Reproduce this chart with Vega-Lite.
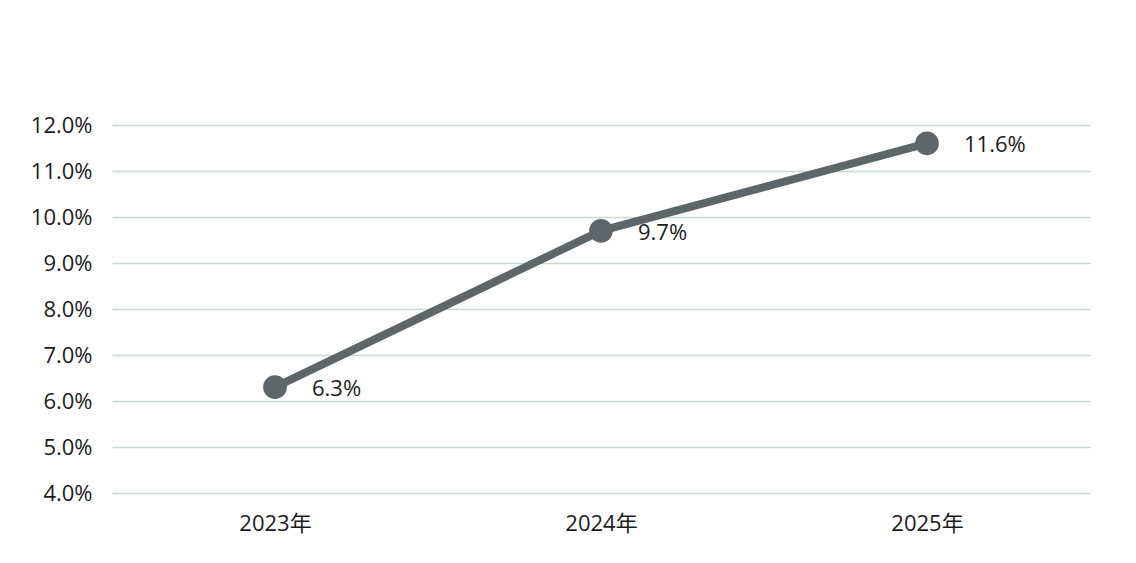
{
  "$schema": "https://vega.github.io/schema/vega-lite/v6.json",
  "width": 978,
  "height": 368,
  "autosize": {"type": "none"},
  "padding": {"left": 112, "top": 125, "right": 46, "bottom": 70},
  "background": "white",
  "data": {
    "values": [
      {"year": "2023年", "rate": 6.3},
      {"year": "2024年", "rate": 9.7},
      {"year": "2025年", "rate": 11.6}
    ]
  },
  "config": {
    "view": {"stroke": null},
    "font": "Open Sans, Noto Sans CJK SC",
    "axis": {
      "domain": false,
      "ticks": false,
      "labelFont": "Open Sans, Noto Sans CJK SC",
      "labelFontSize": 22,
      "labelColor": "#1c1c1c",
      "gridColor": "#c9d9d0",
      "gridWidth": 1.6,
      "title": null
    }
  },
  "encoding": {
    "x": {
      "field": "year",
      "type": "ordinal",
      "scale": {"type": "point", "padding": 0.5},
      "axis": {"labelAngle": 0, "labelPadding": 20, "grid": false}
    },
    "y": {
      "field": "rate",
      "type": "quantitative",
      "scale": {"domain": [4, 12], "nice": false},
      "axis": {
        "values": [4, 5, 6, 7, 8, 9, 10, 11, 12],
        "labelExpr": "format(datum.value, '.1f') + '%'",
        "labelPadding": 20,
        "grid": true
      }
    }
  },
  "layer": [
    {"mark": {"type": "line", "color": "#5f6669", "strokeWidth": 8}},
    {"mark": {"type": "point", "filled": true, "color": "#5f6669", "opacity": 1, "size": 560}},
    {
      "mark": {"type": "text", "align": "left", "baseline": "middle", "dx": 37, "dy": 2, "fontSize": 22, "color": "#1c1c1c"},
      "encoding": {"text": {"field": "label", "type": "nominal"}},
      "transform": [{"calculate": "format(datum.rate, '.1f') + '%'", "as": "label"}]
    }
  ]
}
